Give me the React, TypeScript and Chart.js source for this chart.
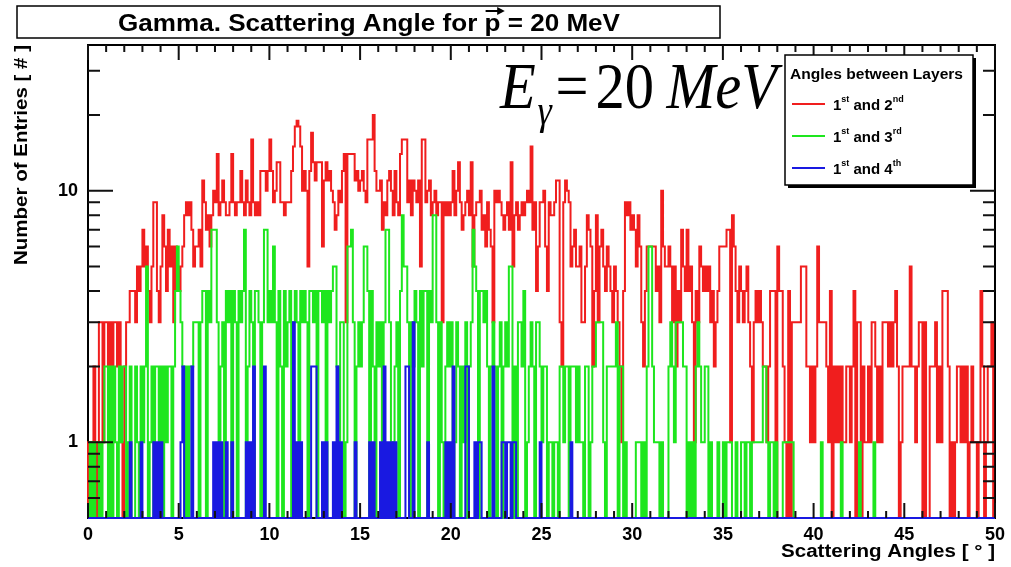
import { useEffect, useRef } from "react";
import { Chart, registerables } from "chart.js";
Chart.register(...registerables);

const BIN_WIDTH = 0.1;
const X_MIN = 0;
const X_MAX = 50;
const Y_MIN = 0.5;
const Y_MAX = 38;
const X_TICKS = [0, 5, 10, 15, 20, 25, 30, 35, 40, 45, 50];
const Y_TICKS = [1, 10];
const Y_MINOR = [0.6, 0.7, 0.8, 0.9, 2, 3, 4, 5, 6, 7, 8, 9, 20, 30];

const TITLE = "Gamma. Scattering Angle for ";
const TITLE_P = "p";
const TITLE_END = " = 20 MeV";
const X_TITLE = "Scattering Angles [ \u00b0 ]";
const Y_TITLE = "Number of Entries [ # ]";
const LEGEND_TITLE = "Angles between Layers";
const LEGEND_LABELS = [
  ["1", "st", " and 2", "nd"],
  ["1", "st", " and 3", "rd"],
  ["1", "st", " and 4", "th"],
];
const COLORS = ["rgb(240,30,30)", "rgb(30,230,30)", "rgb(25,25,225)"];

// 1st and 2nd layer, one row per degree (0.1 deg bins)
const RED = [
  1,0,1,2,0,1,3,3,1,3,
  3,2,3,1,3,3,2,3,1,0,
  2,3,3,4,4,4,3,5,4,5,
  7,5,6,4,3,5,9,9,4,3,
  5,8,6,4,7,5,6,3,6,5,
  4,5,6,8,9,8,9,7,5,6,
  6,7,5,11,9,7,8,6,8,10,
  9,14,8,9,11,9,8,8,9,14,
  9,8,9,9,12,9,8,11,9,8,
  16,9,8,9,8,12,12,12,10,12,
  16,12,9,10,13,13,9,9,8,9,
  9,9,12,15,18,19,18,15,10,12,
  10,5,12,17,13,11,13,13,13,6,
  11,13,11,12,10,9,7,8,10,9,
  12,14,3,14,14,14,14,11,12,10,
  11,12,10,9,16,16,16,20,12,10,
  10,11,7,9,8,11,12,10,8,12,
  9,8,14,16,16,16,9,11,8,11,
  10,9,11,5,16,16,9,10,11,8,
  9,10,8,9,9,3,9,8,9,8,
  9,12,8,10,13,9,7,8,9,10,
  8,13,5,8,9,9,10,7,8,6,
  9,7,6,3,10,9,10,9,8,7,
  8,9,7,13,5,8,9,7,8,9,
  8,9,10,9,15,7,9,4,6,9,
  9,10,6,4,9,8,8,9,11,11,
  3,2,9,11,10,9,5,6,7,5,
  5,6,3,3,5,8,7,6,2,4,
  8,3,6,7,5,4,6,5,4,3,
  5,4,3,2,1,4,9,8,9,7,
  8,7,5,8,6,3,2,4,6,6,
  6,6,6,4,5,3,10,6,5,5,
  6,5,3,5,2,4,3,7,5,4,
  7,4,5,3,1,4,3,6,5,4,
  5,4,5,3,4,2,3,4,6,6,
  6,6,7,7,1,8,6,4,3,5,
  4,3,4,5,3,2,1,3,4,3,
  4,3,2,2,1,2,4,4,4,0,
  6,4,4,2,1,0,4,0,3,3,
  3,3,3,5,5,5,2,2,1,2,
  1,2,6,3,3,3,3,2,1,4,
  0,2,1,2,1,2,1,1,2,2,
  1,2,4,0,3,3,0,2,1,1,
  2,1,3,3,2,1,2,1,3,3,
  3,2,3,2,3,4,2,0,1,2,
  2,2,2,5,2,2,1,2,3,3,
  0,3,0,0,2,2,2,3,1,2,
  1,4,4,4,2,0,1,0,1,2,
  2,1,2,1,2,0,1,2,1,1,
  0,1,4,2,0,1,2,2,3,0,
];

// 1st and 3rd layer
const GREEN = [
  0,1,0,1,0,0,1,0,1,2,
  2,0,2,0,2,1,0,2,1,2,
  2,0,1,2,0,0,2,1,0,2,
  1,2,5,0,1,2,0,2,2,0,
  2,0,2,1,2,2,0,2,4,6,
  4,3,2,0,2,0,2,2,3,3,
  3,0,3,4,4,0,4,3,7,7,
  7,3,0,2,3,0,4,3,4,0,
  4,3,0,4,3,4,7,0,2,4,
  3,0,4,4,3,0,3,7,7,3,
  4,3,6,3,0,4,2,0,4,2,
  3,4,0,3,4,3,0,4,3,4,
  3,0,4,4,3,4,0,4,4,3,
  4,0,4,3,4,5,5,2,0,3,
  3,0,1,6,6,7,3,0,2,3,
  2,3,6,6,4,0,4,2,0,3,
  2,3,0,3,7,7,3,0,1,2,
  3,0,4,8,5,5,3,0,3,2,
  4,3,0,4,2,4,4,0,4,3,
  8,8,3,0,3,1,0,2,3,2,
  3,0,1,3,2,0,2,1,3,0,
  2,3,7,5,4,0,4,4,3,4,
  2,0,2,3,2,0,2,3,0,2,
  3,2,5,5,0,2,0,3,3,2,
  4,0,1,2,3,2,0,3,3,2,
  1,2,2,0,1,1,0,1,1,0,
  2,2,1,2,2,0,2,2,2,1,
  2,1,1,0,2,2,0,1,2,2,
  3,3,3,3,1,0,2,2,2,2,
  2,3,0,2,2,0,1,0,0,0,
  0,0,1,1,1,0,1,0,2,6,
  6,2,1,1,1,0,1,0,0,0,
  2,3,2,1,3,3,3,3,2,2,
  0,1,0,1,0,2,3,2,1,1,
  2,2,0,1,0,0,0,1,0,0,
  1,0,1,1,1,0,0,1,0,0,
  1,1,0,1,1,0,1,1,1,1,
  1,1,2,2,1,0,1,1,0,1,
  0,0,0,1,1,1,1,1,1,0,
  0,0,0,0,0,0,0,0,0,0,
  0,0,0,0,1,0,0,0,0,0,
  0,0,0,0,0,1,0,0,0,0,
  0,0,0,0,0,1,0,0,0,0,
  0,0,0,1,0,0,0,0,0,0,
  0,0,0,0,0,0,0,0,0,0,
  0,0,0,0,0,0,0,0,0,0,
  0,0,0,0,0,0,0,0,0,0,
  0,0,0,0,0,0,0,0,0,0,
  0,0,0,0,0,0,0,0,0,0,
  0,0,0,0,0,0,0,0,0,0,
];

// 1st and 4th layer
const BLUE = [
  0,0,0,0,0,0,0,0,0,0,
  0,0,0,0,0,0,0,0,0,0,
  0,0,0,1,0,0,0,0,0,1,
  0,0,0,0,0,0,1,0,1,0,
  1,0,0,0,0,0,0,0,0,0,
  0,1,2,0,0,0,0,2,0,0,
  0,0,0,0,0,0,0,0,0,1,
  0,1,0,1,0,0,1,0,0,1,
  0,0,0,0,0,0,0,1,0,1,
  0,2,0,0,0,0,0,2,0,0,
  0,0,0,0,0,0,0,0,0,0,
  0,0,0,3,0,1,0,1,0,0,
  0,0,0,2,2,2,0,0,0,1,
  0,1,0,0,0,1,0,2,0,1,
  0,0,0,0,0,0,0,1,0,0,
  0,0,0,0,0,1,0,1,0,0,
  0,1,0,2,0,1,0,1,0,1,
  0,0,0,0,0,2,2,0,0,3,
  0,0,0,0,0,0,0,1,0,0,
  0,0,0,0,0,0,0,1,0,1,
  0,2,0,0,0,0,0,0,2,2,
  0,0,0,1,0,1,1,0,0,0,
  0,0,0,2,0,0,0,0,1,1,
  0,1,1,0,1,1,0,0,0,0,
  0,0,0,0,0,0,0,0,0,1,
  0,0,0,0,0,0,0,0,0,0,
  0,0,0,0,0,0,1,0,0,0,
  0,0,0,0,0,0,0,0,0,0,
  0,0,0,0,0,0,0,0,0,0,
  0,0,0,0,0,0,0,0,0,0,
  0,0,0,0,0,0,0,0,0,0,
  0,0,0,0,0,0,0,0,0,0,
  0,0,0,0,0,0,0,0,0,0,
  0,0,0,0,0,0,0,0,0,0,
  0,0,0,0,0,0,0,0,0,0,
  0,0,0,0,0,0,0,0,0,0,
  0,0,0,0,0,0,0,0,0,0,
  0,0,0,0,0,0,0,0,0,0,
  0,0,0,0,0,0,0,0,0,0,
  0,0,0,0,0,0,0,0,0,0,
  0,0,0,0,0,0,0,0,0,0,
  0,0,0,0,0,0,0,0,0,0,
  0,0,0,0,0,0,0,0,0,0,
  0,0,0,0,0,0,0,0,0,0,
  0,0,0,0,0,0,0,0,0,0,
  0,0,0,0,0,0,0,0,0,0,
  0,0,0,0,0,0,0,0,0,0,
  0,0,0,0,0,0,0,0,0,0,
  0,0,0,0,0,0,0,0,0,0,
  0,0,0,0,0,0,0,0,0,0,
];

const SANS = "'Liberation Sans', Arial, sans-serif";
const SERIF = "'Liberation Serif', 'Times New Roman', serif";

function histPoints(vals: number[]) {
  // empty bins sit on the lower edge of the log axis, as in ROOT
  const floor = Y_MIN;
  const pts: { x: number; y: number }[] = [{ x: X_MIN, y: floor }];
  vals.forEach((v, i) => pts.push({ x: X_MIN + i * BIN_WIDTH, y: v > 0 ? v : floor }));
  const last = vals[vals.length - 1];
  pts.push({ x: X_MIN + vals.length * BIN_WIDTH, y: last > 0 ? last : floor });
  pts.push({ x: X_MIN + vals.length * BIN_WIDTH, y: floor });
  return pts;
}

// draw text squeezed/stretched to a target width
function fitText(ctx: any, text: string, x: number, y: number, width: number) {
  const w = ctx.measureText(text).width;
  ctx.save();
  ctx.translate(x, y);
  ctx.scale(width / w, 1);
  ctx.fillText(text, 0, 0);
  ctx.restore();
}

const decor = {
  id: "decor",
  beforeDatasetsDraw(chart: any) {
    const { ctx, chartArea: a } = chart;
    ctx.save();
    ctx.strokeStyle = "#000";
    ctx.lineWidth = 2;
    ctx.strokeRect(a.left, a.top, a.right - a.left, a.bottom - a.top);
    ctx.restore();
  },
  afterDatasetsDraw(chart: any) {
    const { ctx, chartArea: a, scales } = chart;
    ctx.save();
    ctx.strokeStyle = "#111";
    ctx.lineWidth = 2;
    ctx.beginPath();
    for (let v = X_MIN; v <= X_MAX; v += 1) {
      const x = scales.x.getPixelForValue(v);
      const len = v % 5 === 0 ? 15 : 7;
      ctx.moveTo(x, a.bottom);
      ctx.lineTo(x, a.bottom - len);
      ctx.moveTo(x, a.top);
      ctx.lineTo(x, a.top + len);
    }
    const yt = [...Y_TICKS.map((v) => [v, 25]), ...Y_MINOR.map((v) => [v, 12])];
    yt.forEach(([v, len]) => {
      const y = scales.y.getPixelForValue(v);
      ctx.moveTo(a.left, y);
      ctx.lineTo(a.left + len, y);
      ctx.moveTo(a.right, y);
      ctx.lineTo(a.right - len, y);
    });
    ctx.stroke();
    ctx.restore();
  },
  afterDraw(chart: any) {
    const { ctx, chartArea: a, data } = chart;
    ctx.save();
    // title box
    ctx.fillStyle = "#fff";
    ctx.fillRect(17, 6, 703, 32);
    ctx.strokeStyle = "#000";
    ctx.lineWidth = 1.5;
    ctx.strokeRect(17, 6, 703, 32);
    ctx.fillStyle = "#000";
    ctx.font = `bold 24px ${SANS}`;
    ctx.textBaseline = "alphabetic";
    ctx.textAlign = "left";
    const w1 = ctx.measureText(TITLE).width;
    const wp = ctx.measureText(TITLE_P).width;
    const w2 = ctx.measureText(TITLE_END).width;
    const total = w1 + wp + w2;
    const sx = 502 / total;
    ctx.save();
    ctx.translate(118, 31);
    ctx.scale(sx, 1);
    ctx.fillText(TITLE, 0, 0);
    ctx.fillText(TITLE_P, w1, 0);
    ctx.fillText(TITLE_END, w1 + wp, 0);
    // arrow over p
    ctx.lineWidth = 2;
    ctx.beginPath();
    ctx.moveTo(w1 + 1, -20);
    ctx.lineTo(w1 + wp + 1, -20);
    ctx.stroke();
    ctx.beginPath();
    ctx.moveTo(w1 + wp + 4, -20);
    ctx.lineTo(w1 + wp - 3, -24);
    ctx.lineTo(w1 + wp - 3, -16);
    ctx.closePath();
    ctx.fill();
    ctx.restore();

    // axis titles
    ctx.font = `bold 18px ${SANS}`;
    ctx.textAlign = "left";
    ctx.textBaseline = "alphabetic";
    fitText(ctx, X_TITLE, 781, 557, 214);
    ctx.save();
    ctx.translate(27, 265);
    ctx.rotate(-Math.PI / 2);
    fitText(ctx, Y_TITLE, 0, 0, 220);
    ctx.restore();

    // E_gamma = 20 MeV
    const big = 66;
    const parts = [
      { t: "E", f: `italic ${big}px ${SERIF}`, dy: 0, gap: 0 },
      { t: "\u03b3", f: `italic ${big * 0.62}px ${SERIF}`, dy: 16, gap: 2 },
      { t: "=", f: `${big}px ${SERIF}`, dy: 0, gap: 4 },
      { t: "20", f: `${big}px ${SERIF}`, dy: 0, gap: 8 },
      { t: "MeV", f: `italic ${big}px ${SERIF}`, dy: 0, gap: 14 },
    ];
    let tw = 0;
    const xs: number[] = [];
    parts.forEach((p) => {
      ctx.font = p.f;
      tw += p.gap;
      xs.push(tw);
      tw += ctx.measureText(p.t).width;
    });
    ctx.save();
    ctx.translate(500, 108);
    ctx.scale(277 / tw, 1);
    ctx.textAlign = "left";
    parts.forEach((p, i) => {
      ctx.font = p.f;
      ctx.fillText(p.t, xs[i], p.dy);
    });
    ctx.restore();

    // legend
    const lx = 785, ly = 55, lw = 188, lh = 130;
    ctx.fillStyle = "#000";
    ctx.fillRect(lx + 3, ly + 3, lw, lh);
    ctx.fillStyle = "#fff";
    ctx.fillRect(lx, ly, lw, lh);
    ctx.strokeStyle = "#000";
    ctx.lineWidth = 1.5;
    ctx.strokeRect(lx, ly, lw, lh);
    ctx.fillStyle = "#000";
    ctx.textAlign = "left";
    ctx.textBaseline = "alphabetic";
    ctx.font = `bold 15px ${SANS}`;
    fitText(ctx, LEGEND_TITLE, 790, 79, 173);
    LEGEND_LABELS.forEach((segs, i) => {
      const y = 104 + i * 32;
      ctx.strokeStyle = data.datasets[i].borderColor;
      ctx.lineWidth = 2;
      ctx.beginPath();
      ctx.moveTo(792, y);
      ctx.lineTo(825, y);
      ctx.stroke();
      let x = 833;
      segs.forEach((s, k) => {
        const sup = k % 2 === 1;
        ctx.font = sup ? `bold 9px ${SANS}` : `bold 15px ${SANS}`;
        ctx.fillText(s, x, sup ? y - 2 : y + 6);
        x += ctx.measureText(s).width;
      });
    });
    ctx.restore();
  },
};

export default function App() {
  const ref = useRef<HTMLCanvasElement>(null);
  useEffect(() => {
    document.body.style.margin = "0";
    const chart = new Chart(ref.current!, {
      type: "line",
      data: {
        datasets: [
          { label: "1st and 2nd", data: histPoints(RED), borderColor: COLORS[0], order: 3 },
          { label: "1st and 3rd", data: histPoints(GREEN), borderColor: COLORS[1], order: 2 },
          { label: "1st and 4th", data: histPoints(BLUE), borderColor: COLORS[2], order: 1 },
        ].map((d) => ({
          ...d,
          stepped: "before" as const,
          borderWidth: 2,
          pointRadius: 0,
          fill: false,
          tension: 0,
          clip: false as any,
          borderJoinStyle: "miter" as const,
        })),
      },
      options: {
        animation: false,
        responsive: false,
        devicePixelRatio: 1,
        layout: { padding: { left: 0, top: 45, right: 16, bottom: 0 } },
        plugins: { legend: { display: false }, title: { display: false }, tooltip: { enabled: false } },
        scales: {
          x: {
            type: "linear",
            min: X_MIN,
            max: X_MAX,
            grid: { display: false, drawTicks: false },
            border: { display: false },
            afterBuildTicks: (s: any) => {
              s.ticks = X_TICKS.map((v) => ({ value: v }));
            },
            afterFit: (s: any) => {
              s.height = 49;
            },
            ticks: {
              autoSkip: false,
              maxRotation: 0,
              padding: 6,
              color: "#000",
              font: { family: SANS, size: 18, weight: "bold" },
              callback: (v: any) => String(v),
            },
          },
          y: {
            type: "logarithmic",
            min: Y_MIN,
            max: Y_MAX,
            grid: { display: false, drawTicks: false },
            border: { display: false },
            afterBuildTicks: (s: any) => {
              s.ticks = Y_TICKS.map((v) => ({ value: v }));
            },
            afterFit: (s: any) => {
              s.width = 88;
            },
            ticks: {
              padding: 10,
              color: "#000",
              font: { family: SANS, size: 18, weight: "bold" },
              callback: (v: any) => String(v),
            },
          },
        },
      },
      plugins: [decor],
    });
    return () => chart.destroy();
  }, []);
  return (
    <div style={{ position: "absolute", left: 0, top: 0, width: 1011, height: 567, background: "#fff" }}>
      <canvas ref={ref} width={1011} height={567} style={{ display: "block" }} />
    </div>
  );
}
